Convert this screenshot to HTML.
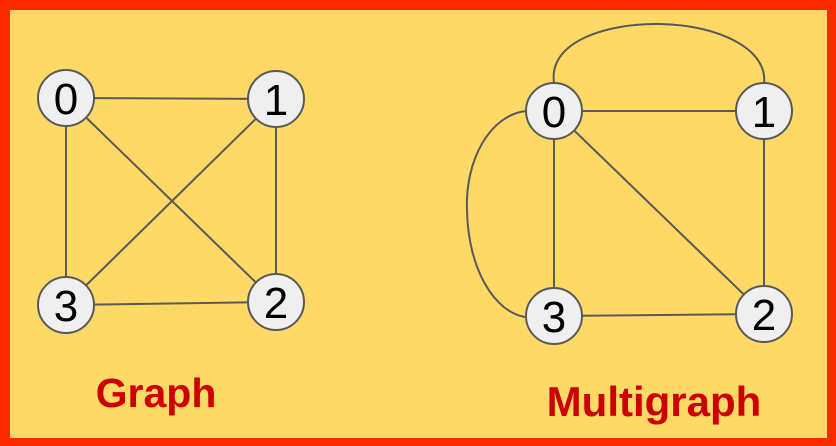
<!DOCTYPE html>
<html><head><style>
html,body{margin:0;padding:0;}
body{width:836px;height:446px;overflow:hidden;background:#FF2A00;}
</style></head><body>
<svg width="836" height="446" xmlns="http://www.w3.org/2000/svg" style="display:block">
<rect x="0" y="0" width="836" height="446" fill="#FF2A00"/>
<rect x="10" y="10" width="817" height="428" fill="#FFD966"/>
<g stroke="#595959" stroke-width="2" fill="none">
<line x1="66" y1="98" x2="276" y2="99"/>
<line x1="66" y1="98" x2="66" y2="305"/>
<line x1="66" y1="98" x2="276" y2="302"/>
<line x1="276" y1="99" x2="66" y2="305"/>
<line x1="276" y1="99" x2="276" y2="302"/>
<line x1="66" y1="305" x2="276" y2="302"/>
<line x1="554" y1="111" x2="764" y2="111"/>
<line x1="554" y1="111" x2="554" y2="316"/>
<line x1="554" y1="111" x2="764" y2="314"/>
<line x1="764" y1="111" x2="764" y2="314"/>
<line x1="554" y1="316" x2="764" y2="314"/>
<path d="M554 83 C 548 40, 610 23, 660 24 C 720 25, 768 50, 764 83"/>
<path d="M526 111 C 490 115, 465 160, 467 210 C 468 270, 495 312, 525 317"/>
</g>
<g fill="#EFEFEF" stroke="#595959" stroke-width="2">
<circle cx="66" cy="98" r="28"/><circle cx="276" cy="99" r="28"/>
<circle cx="66" cy="305" r="28"/><circle cx="276" cy="302" r="28"/>
<circle cx="554" cy="111" r="28"/><circle cx="764" cy="111" r="28"/>
<circle cx="554" cy="316" r="28"/><circle cx="764" cy="314" r="28"/>
</g>
<g font-family="Liberation Sans, sans-serif" font-size="44" text-anchor="middle" fill="#000">
<text x="66" y="114">0</text><text x="276" y="115">1</text>
<text x="66" y="321">3</text><text x="276" y="318">2</text>
<text x="554" y="127">0</text><text x="764" y="127">1</text>
<text x="554" y="332">3</text><text x="764" y="330">2</text>
</g>
<g font-family="Liberation Sans, sans-serif" font-weight="bold" fill="#CC0000" text-anchor="middle">
<text x="156" y="407" font-size="41">Graph</text>
<text x="654" y="416" font-size="42">Multigraph</text>
</g>
</svg>
</body></html>
